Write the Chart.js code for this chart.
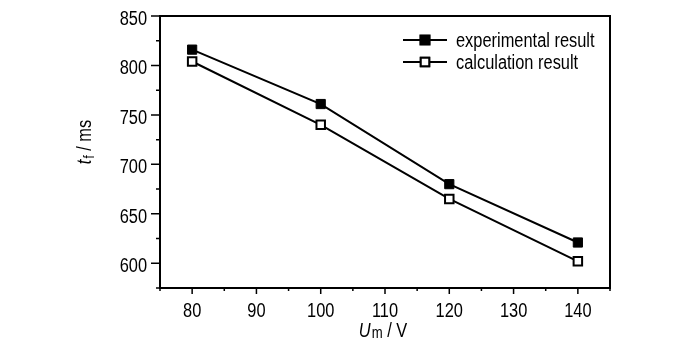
<!DOCTYPE html>
<html>
<head>
<meta charset="utf-8">
<script src="https://cdn.jsdelivr.net/npm/chart.js@4.4.0/dist/chart.umd.min.js"></script>
<style>
html, body { margin: 0; padding: 0; background: #fff; }
</style>
</head>
<body>
<canvas id="chart1" width="700" height="348"></canvas>
<script>
// values
const voltage = [80, 100, 120, 140];
const experimental = [816, 761, 680, 621];
const calculation = [804, 740, 665, 602];
const seriesNames = ['experimental result', 'calculation result'];
const xRange = [75, 145];
const yRange = [575, 850];

const FONT = '"Liberation Sans", Arial, sans-serif';
const SQUEEZE = 0.82; // reference font is a narrow grotesque

// text drawn horizontally squeezed around its anchor
function narrowText(ctx, text, x, y, font, align) {
  ctx.save();
  ctx.font = font;
  ctx.textAlign = align || 'left';
  ctx.textBaseline = 'alphabetic';
  ctx.translate(x, y);
  ctx.scale(SQUEEZE, 1);
  ctx.fillText(text, 0, 0);
  const w = ctx.measureText(text).width * SQUEEZE;
  ctx.restore();
  return w;
}
function narrowWidth(ctx, text, font) {
  ctx.save();
  ctx.font = font;
  const w = ctx.measureText(text).width * SQUEEZE;
  ctx.restore();
  return w;
}

// box, outward ticks (major + minor), tick labels, legend and axis titles
const decorations = {
  id: 'decorations',
  afterDatasetsDraw(chart) {
    const {ctx, chartArea: {left, top, right, bottom}, scales: {x, y}} = chart;
    ctx.save();
    ctx.strokeStyle = '#000';
    ctx.fillStyle = '#000';
    ctx.lineWidth = 2;
    ctx.strokeRect(left, top, right - left, bottom - top);

    ctx.lineWidth = 1.5;
    ctx.beginPath();
    x.ticks.forEach(t => {
      const px = x.getPixelForValue(t.value);
      const len = t.value % 10 === 0 ? 6 : 3;
      ctx.moveTo(px, bottom);
      ctx.lineTo(px, bottom + len);
    });
    y.ticks.forEach(t => {
      const py = y.getPixelForValue(t.value);
      const len = t.value % 50 === 0 ? 9 : 4;
      ctx.moveTo(left, py);
      ctx.lineTo(left - len, py);
    });
    ctx.stroke();

    const tickFont = '20px ' + FONT;
    x.ticks.forEach(t => {
      if (t.value % 10 !== 0 || t.value < 80 || t.value > 140) return;
      narrowText(ctx, String(t.value), x.getPixelForValue(t.value), bottom + 29, tickFont, 'center');
    });
    y.ticks.forEach(t => {
      if (t.value % 50 !== 0) return;
      narrowText(ctx, String(t.value), left - 13, y.getPixelForValue(t.value) + 9, tickFont, 'right');
    });

    // legend
    const rows = [40, 62];
    chart.data.datasets.forEach((ds, i) => {
      const ly = rows[i];
      ctx.lineWidth = 2;
      ctx.beginPath();
      ctx.moveTo(403, ly);
      ctx.lineTo(447, ly);
      ctx.stroke();
      Chart.helpers.drawPoint(ctx, {
        pointStyle: 'rect', radius: ds.pointRadius, borderWidth: ds.pointBorderWidth, rotation: 0
      }, 425, ly);
      ctx.fillStyle = ds.pointBackgroundColor;
      ctx.fill();
      ctx.lineWidth = ds.pointBorderWidth;
      ctx.stroke();
      ctx.fillStyle = '#000';
      narrowText(ctx, ds.label, 456, ly + 7, '20px ' + FONT, 'left');
    });

    // x title: U_m / V
    const fU = 'italic 20px ' + FONT, fSub = '16px ' + FONT, fMain = '20px ' + FONT;
    const total = narrowWidth(ctx, 'U', fU) + 1 + narrowWidth(ctx, 'm', fSub) + narrowWidth(ctx, ' / V', fMain);
    let tx = (left + right) / 2 - 2 - total / 2;
    tx += narrowText(ctx, 'U', tx, 337, fU) + 1;
    tx += narrowText(ctx, 'm', tx, 338, fSub);
    narrowText(ctx, ' / V', tx, 337, fMain);

    // y title: t_f / ms (rotated)
    const fT = 'italic 20px ' + FONT, fF = '14px ' + FONT;
    const total2 = narrowWidth(ctx, 't', fT) + 1 + narrowWidth(ctx, 'f', fF) + narrowWidth(ctx, ' / ms', fMain);
    ctx.translate(91, 142);
    ctx.rotate(-Math.PI / 2);
    let ty = -total2 / 2;
    ty += narrowText(ctx, 't', ty, 0, fT) + 1;
    ty += narrowText(ctx, 'f', ty, 3, fF);
    narrowText(ctx, ' / ms', ty, 0, fMain);
    ctx.restore();
  }
};

const config = {
  type: 'line',
  data: {
    datasets: [
      {
        label: seriesNames[0],
        data: voltage.map((v, i) => ({x: v, y: experimental[i]})),
        borderColor: '#000',
        borderWidth: 2,
        pointStyle: 'rect',
        pointRadius: 6.5,
        pointBackgroundColor: '#000',
        pointBorderColor: '#000',
        pointBorderWidth: 1
      },
      {
        label: seriesNames[1],
        data: voltage.map((v, i) => ({x: v, y: calculation[i]})),
        borderColor: '#000',
        borderWidth: 2,
        pointStyle: 'rect',
        pointRadius: 6,
        pointBackgroundColor: '#fff',
        pointBorderColor: '#000',
        pointBorderWidth: 2
      }
    ]
  },
  options: {
    responsive: false,
    animation: false,
    layout: {padding: {left: 0, right: 90, top: 16, bottom: 0}},
    plugins: {legend: {display: false}, tooltip: {enabled: false}},
    scales: {
      x: {
        type: 'linear',
        min: xRange[0],
        max: xRange[1],
        afterFit(scale) { scale.height = 60; scale.paddingLeft = 0; scale.paddingRight = 0; },
        grid: {display: false, drawTicks: false},
        border: {display: false},
        ticks: {stepSize: 5, display: false, autoSkip: false}
      },
      y: {
        min: yRange[0],
        max: yRange[1],
        afterFit(scale) { scale.width = 160; scale.paddingTop = 0; scale.paddingBottom = 0; },
        grid: {display: false, drawTicks: false},
        border: {display: false},
        ticks: {stepSize: 25, display: false, autoSkip: false}
      }
    }
  },
  plugins: [decorations]
};

new Chart(document.getElementById('chart1'), config);
</script>
</body>
</html>
